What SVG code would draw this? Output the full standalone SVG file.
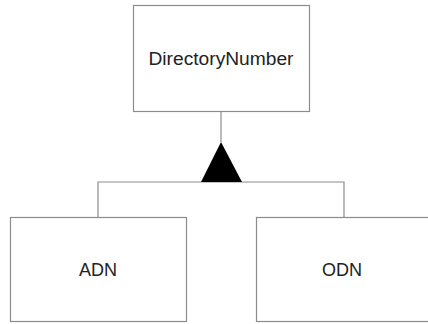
<svg xmlns="http://www.w3.org/2000/svg" width="428" height="324" viewBox="0 0 428 324">
<style>
.box{fill:#fff;stroke:#8c8c8c;stroke-width:1.2}
.ln{fill:none;stroke:#8c8c8c;stroke-width:1.2}
.t{font-family:"Liberation Sans",Arial,sans-serif;font-size:18px;fill:#222;text-anchor:middle}
</style>
<rect width="428" height="324" fill="#fff"/>
<g id="connectors">
<line class="ln" x1="221" y1="112" x2="221" y2="142"/>
<polyline class="ln" points="98,217 98,182 344,182 344,217"/>
<polygon points="221,142 201,182 242,182" fill="#000"/>
</g>
<g id="DirectoryNumber">
<rect class="box" x="133.5" y="5.5" width="176" height="106"/>
<text class="t" x="221" y="65" textLength="145" lengthAdjust="spacingAndGlyphs">DirectoryNumber</text>
</g>
<g id="ADN">
<rect class="box" x="10.5" y="217.5" width="176" height="104"/>
<text class="t" x="98" y="276">ADN</text>
</g>
<g id="ODN">
<rect class="box" x="256.5" y="217.5" width="176" height="104"/>
<text class="t" x="342" y="276">ODN</text>
</g>
</svg>
